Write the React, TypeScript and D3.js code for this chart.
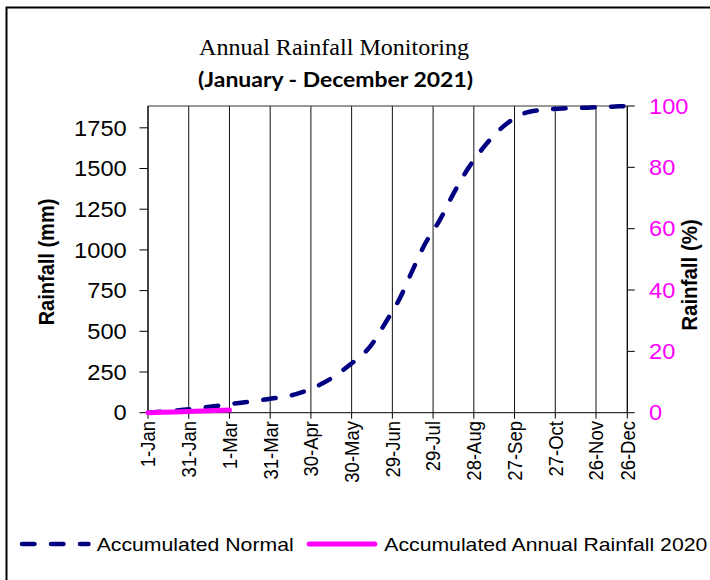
import React from 'react';
import * as d3 from 'd3';

const tickDays = [0, 30, 60, 90, 120, 150, 180, 210, 240, 270, 300, 330, 360];
const tickLabels = ['1-Jan', '31-Jan', '1-Mar', '31-Mar', '30-Apr', '30-May', '29-Jun', '29-Jul', '28-Aug', '27-Sep', '27-Oct', '26-Nov', '26-Dec'];

const normalDays = [0, 26, 47, 67, 89, 109, 129, 135, 148, 164, 175, 186, 195, 204, 215, 225, 236, 248, 263, 281, 302, 324, 345, 360];
const normalMm = [0, 18, 38, 60, 84, 114, 182, 211, 290, 410, 554, 711, 877, 1036, 1184, 1346, 1503, 1638, 1767, 1849, 1867, 1874, 1880, 1884];

const actualDays = [0, 20, 40, 60];
const actualMm = [0, 5, 10, 16];

const leftTicks = [0, 250, 500, 750, 1000, 1250, 1500, 1750];
const rightTicks = [0, 20, 40, 60, 80, 100];

const SANS = '"Liberation Sans", Arial, Helvetica, sans-serif';
const SERIF = '"Liberation Serif", "Times New Roman", serif';
const NAVY = '#000080';
const MAGENTA = '#FF00FF';
const SX = 1.1;

export default function App() {
  const left = 148;
  const right = 627.3;
  const top = 106;
  const bottom = 412.7;
  const legendY = 544;

  const x = d3.scaleLinear().domain([0, 330, 360]).range([left, 596, right]);
  const yL = d3.scaleLinear().domain([0, 1884]).range([bottom, top]);
  const yR = d3.scaleLinear().domain([0, 100]).range([bottom, top]);

  const line = d3
    .line<[number, number]>()
    .x((d) => x(d[0]))
    .y((d) => yL(d[1]))
    .curve(d3.curveMonotoneX);

  const normalPts: [number, number][] = normalDays.map((d, i) => [d, normalMm[i]]);
  const actualPts: [number, number][] = actualDays.map((d, i) => [d, actualMm[i]]);

  return (
    <svg
      width={710}
      height={580}
      style={{ position: 'absolute', left: 0, top: 0, background: '#fff' }}
    >
      <rect x={0} y={0} width={710} height={580} fill="#fff" />
      {/* outer frame */}
      <path d="M6.5,580 V7.5 H710" fill="none" stroke="#000" strokeWidth={2} />

      {/* title */}
      <text
        x={334}
        y={55}
        textAnchor="middle"
        fontFamily={SERIF}
        fontSize={24}
        textLength={270}
        lengthAdjust="spacingAndGlyphs"
        fill="#000"
      >
        Annual Rainfall Monitoring
      </text>
      <text
        x={335.5}
        y={87}
        textAnchor="middle"
        fontFamily='Lato, "Open Sans", sans-serif'
        fontWeight="bold"
        fontSize={21.5}
        textLength={275}
        lengthAdjust="spacingAndGlyphs"
        fill="#000"
      >
        (January - December 2021)
      </text>

      {/* vertical gridlines */}
      {tickDays.map((d) => (
        <line key={'g' + d} x1={x(d)} x2={x(d)} y1={top} y2={bottom} stroke="#111" strokeWidth={1} />
      ))}

      {/* plot frame top */}
      <line x1={left} x2={right} y1={top} y2={top} stroke="#333" strokeWidth={1} />

      {/* left axis */}
      <line x1={left} x2={left} y1={top} y2={bottom} stroke="#000" strokeWidth={1} />
      {leftTicks.map((v) => (
        <g key={'l' + v}>
          <line x1={left - 8.5} x2={left} y1={yL(v)} y2={yL(v)} stroke="#000" strokeWidth={1} />
          <text
            transform={`translate(126.7,${yL(v)}) scale(${SX},1)`}
            dy="0.36em"
            textAnchor="end"
            fontFamily={SANS}
            fontSize={21.5}
            fill="#000"
          >
            {v}
          </text>
        </g>
      ))}

      {/* right axis */}
      <line x1={right} x2={right} y1={top} y2={bottom} stroke="#000" strokeWidth={1} />
      {rightTicks.map((v) => (
        <g key={'r' + v}>
          <line x1={right} x2={right + 7.5} y1={yR(v)} y2={yR(v)} stroke="#000" strokeWidth={1} />
          <text
            transform={`translate(649,${yR(v)}) scale(${SX},1)`}
            dy="0.36em"
            textAnchor="start"
            fontFamily={SANS}
            fontSize={21.5}
            fill={MAGENTA}
          >
            {v}
          </text>
        </g>
      ))}

      {/* x axis */}
      <line x1={left} x2={right} y1={bottom} y2={bottom} stroke="#000" strokeWidth={1} />
      {tickDays.map((d, i) => (
        <g key={'x' + d}>
          <line x1={x(d)} x2={x(d)} y1={bottom} y2={bottom + 6} stroke="#000" strokeWidth={1} />
          <text
            transform={`translate(${x(d)},421) scale(${SX},1) rotate(-90)`}
            dy="0.36em"
            textAnchor="end"
            fontFamily={SANS}
            fontSize={18.5}
            fill="#000"
          >
            {tickLabels[i]}
          </text>
        </g>
      ))}

      {/* axis titles */}
      <text
        transform={`translate(53.5,262) scale(${SX},1) rotate(-90)`}
        textAnchor="middle"
        fontFamily={SANS}
        fontWeight="bold"
        fontSize={20}
        fill="#000"
      >
        Rainfall (mm)
      </text>
      <text
        transform={`translate(697,275) scale(${SX},1) rotate(-90)`}
        textAnchor="middle"
        fontFamily={SANS}
        fontWeight="bold"
        fontSize={20.5}
        fill="#000"
      >
        Rainfall (%)
      </text>

      {/* series */}
      <path
        d={line(normalPts) || ''}
        fill="none"
        stroke={NAVY}
        strokeWidth={4.5}
        strokeDasharray="12.5 16.5"
        strokeLinecap="round"
      />
      <path
        d={line(actualPts) || ''}
        fill="none"
        stroke={MAGENTA}
        strokeWidth={5}
        strokeLinecap="round"
      />

      {/* legend */}
      <line
        x1={22}
        x2={88.5}
        y1={legendY}
        y2={legendY}
        stroke={NAVY}
        strokeWidth={4.5}
        strokeDasharray="12.5 16.5"
        strokeLinecap="round"
      />
      <text
        x={96.7}
        y={legendY + 6.5}
        fontFamily={SANS}
        fontSize={18.5}
        textLength={197}
        lengthAdjust="spacingAndGlyphs"
        fill="#000"
      >
        Accumulated Normal
      </text>
      <line
        x1={309.2}
        x2={374.8}
        y1={legendY}
        y2={legendY}
        stroke={MAGENTA}
        strokeWidth={5}
        strokeLinecap="round"
      />
      <text
        x={384.3}
        y={legendY + 6.5}
        fontFamily={SANS}
        fontSize={18.5}
        textLength={323}
        lengthAdjust="spacingAndGlyphs"
        fill="#000"
      >
        Accumulated Annual Rainfall 2020
      </text>
    </svg>
  );
}
